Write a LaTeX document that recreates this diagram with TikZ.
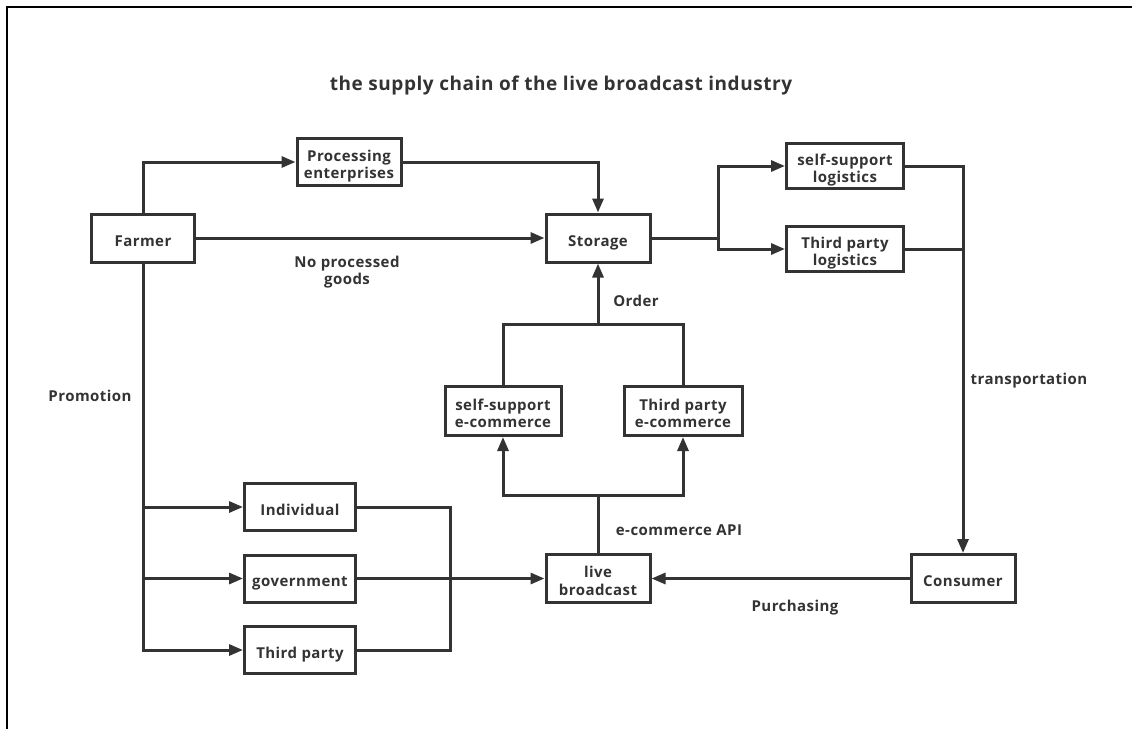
\documentclass[tikz,border=0pt]{standalone}
\usepackage{fontspec}
\setmainfont{Open Sans}[LetterSpace=3]
\usetikzlibrary{arrows.meta}
\definecolor{ink}{HTML}{333333}
\begin{document}
\begin{tikzpicture}[x=1pt,y=-1pt,
  box/.style={draw=ink, line width=3pt, text=ink, font=\bfseries\fontsize{15}{17.5}\selectfont, align=center, inner sep=0pt, minimum width=#1, minimum height=47pt, text height=16pt, text depth=0pt},
  box/.default=104pt,
  twoline/.style={text height=33pt, text depth=0pt},
  lbl/.style={text=ink, font=\bfseries\fontsize{15}{17.5}\selectfont, align=center, inner sep=0pt},
  conn/.style={draw=ink, line width=3pt},
  arr/.style={conn, -{Triangle[length=14pt,width=11pt]}}]
\useasboundingbox (0,0) rectangle (1132,729);
\draw[line width=2pt] (7,729) -- (7,7) -- (1132,7);
\node[lbl, font=\bfseries\fontsize{19}{22}\selectfont] (title) at (561,86) {the supply chain of the live broadcast industry};
% nodes
\node[box=103pt, minimum height=48pt] (farmer) at (143,238) {Farmer};
\node[box, twoline] (proc) at (349,162) {Processing\\enterprises};
\node[box, minimum height=48pt] (storage) at (598,238) {Storage};
\node[box=117pt, twoline, minimum height=45pt] (sslog) at (845,166) {self-support\\logistics};
\node[box=117pt, twoline, minimum height=45pt] (tplog) at (845,249) {Third party\\logistics};
\node[box=116pt, twoline, minimum height=49pt] (ssec) at (503,411) {self-support\\e-commerce};
\node[box=118pt, twoline, minimum height=49pt] (tpec) at (683,411) {Third party\\e-commerce};
\node[box=111pt] (indiv) at (300,507) {Individual};
\node[box=111pt] (gov) at (300,578.5) {government};
\node[box=111pt] (third) at (300,650) {Third party};
\node[box, twoline, minimum height=48pt] (live) at (598,578.5) {live\\broadcast};
\node[box, minimum height=48pt] (consumer) at (963,578.5) {Consumer};
% labels
\node[lbl] (lnp) at (347,272) {No processed\\goods};
\node[lbl] (lprom) at (90,396) {Promotion};
\node[lbl] (lorder) at (636,301) {Order};
\node[lbl] (ltrans) at (1029,380.5) {transportation};
\node[lbl] (lapi) at (679,530) {e-commerce API};
\node[lbl] (lpur) at (795,607.5) {Purchasing};
% coordinates
\coordinate (sj) at (718,238);
\coordinate (lj) at (598,495);
\coordinate (oj) at (598,324);
\coordinate (m1) at (450,507);
\coordinate (m2) at (450,650);
% connectors
\draw[arr] (farmer.north) |- (proc.west);
\draw[arr] (proc.east) -| (storage.north);
\draw[arr] (farmer.east) -- (storage.west);
\draw[conn] (storage.east) -- (sj);
\draw[arr] (sj) |- (sslog.west);
\draw[arr] (sj) |- (tplog.west);
\draw[arr] (sslog.east) -| (consumer.north);
\draw[conn] (tplog.east) -- (tplog.east -| consumer.north);
\draw[arr] (consumer.west) -- (live.east);
\draw[conn] (live.north) -- (lj);
\draw[arr] (lj) -| (ssec.south);
\draw[arr] (lj) -| (tpec.south);
\draw[conn] (ssec.north) |- (oj);
\draw[conn] (tpec.north) |- (oj);
\draw[arr] (oj) -- (storage.south);
\draw[arr] (farmer.south) |- (indiv.west);
\draw[arr] (farmer.south) |- (gov.west);
\draw[arr] (farmer.south) |- (third.west);
\draw[conn] (indiv.east) -- (m1) -- (m2) -- (third.east);
\draw[arr] (gov.east) -- (live.west);
\end{tikzpicture}
\end{document}
